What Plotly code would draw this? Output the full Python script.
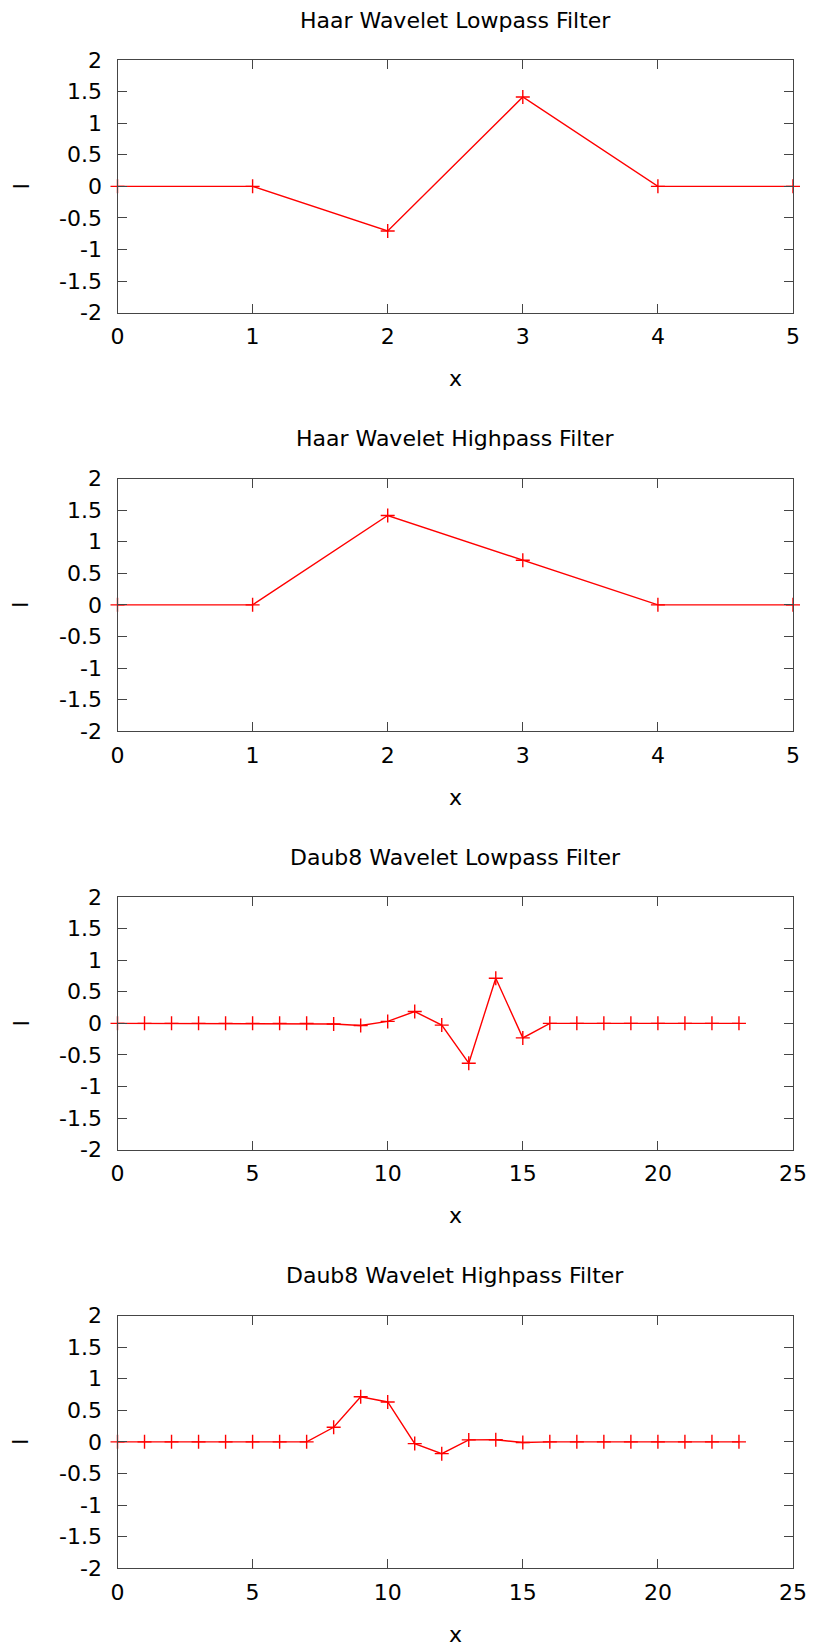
import plotly.graph_objects as go

# ---------------- data ----------------
TITLES = [
    "Haar Wavelet Lowpass Filter",
    "Haar Wavelet Highpass Filter",
    "Daub8 Wavelet Lowpass Filter",
    "Daub8 Wavelet Highpass Filter",
]
X_LABEL = "x"
Y_LABEL = "l"

HAAR_X = [0, 1, 2, 3, 4, 5]
HAAR_LOW = [0, 0, -0.7071, 1.4142, 0, 0]
HAAR_HIGH = [0, 0, 1.4142, 0.7071, 0, 0]

DAUB_X = [0, 1, 2, 3, 4, 5, 6, 7, 8, 9, 10, 11, 12, 13, 14, 15,
          16, 17, 18, 19, 20, 21, 22, 23]
DAUB_LOW = [0, 0, 0, 0, 0, 0, 0, 0,
            -0.0106, -0.0329, 0.0308, 0.1870, -0.0280, -0.6309, 0.7148, -0.2304,
            0, 0, 0, 0, 0, 0, 0, 0]
DAUB_HIGH = [0, 0, 0, 0, 0, 0, 0, 0,
             0.2304, 0.7148, 0.6309, -0.0280, -0.1870, 0.0308, 0.0329, -0.0106,
             0, 0, 0, 0, 0, 0, 0, 0]

Y_TICKS = [-2, -1.5, -1, -0.5, 0, 0.5, 1, 1.5, 2]
Y_TICK_LABELS = ["-2", "-1.5", "-1", "-0.5", "0", "0.5", "1", "1.5", "2"]
HAAR_X_TICKS = [0, 1, 2, 3, 4, 5]
DAUB_X_TICKS = [0, 5, 10, 15, 20, 25]

PANELS = [
    (HAAR_X, HAAR_LOW, HAAR_X_TICKS, [0, 5]),
    (HAAR_X, HAAR_HIGH, HAAR_X_TICKS, [0, 5]),
    (DAUB_X, DAUB_LOW, DAUB_X_TICKS, [0, 25]),
    (DAUB_X, DAUB_HIGH, DAUB_X_TICKS, [0, 25]),
]

# ---------------- layout geometry (pixels) ----------------
W, H = 814, 1647
LEFT, RIGHT = 117.5, 793.0
TOP0, BOT0 = 60.0, 312.7
PITCH = 418.5

FONT = "DejaVu Sans"
TXT = "#000000"
AXC = "#454545"
RED = "#ff0000"

fig = go.Figure()
layout = dict(
    width=W, height=H,
    margin=dict(l=0, r=0, t=0, b=0),
    paper_bgcolor="white", plot_bgcolor="white",
    showlegend=False,
    font=dict(family=FONT, size=22, color=TXT),
)
annotations = []

xc = (LEFT + RIGHT) / 2 / W
for i, (xs, ys, xt, xr) in enumerate(PANELS):
    top = TOP0 + i * PITCH
    bot = BOT0 + i * PITCH
    sfx = "" if i == 0 else str(i + 1)
    fig.add_trace(go.Scatter(
        x=xs, y=ys, mode="lines+markers",
        xaxis="x" + sfx, yaxis="y" + sfx,
        line=dict(color=RED, width=1.4),
        marker=dict(symbol="cross-thin", size=10,
                    line=dict(color=RED, width=1.4), color=RED),
        cliponaxis=False, hoverinfo="skip",
    ))
    common = dict(
        showline=True, linecolor=AXC, linewidth=1.3, mirror="ticks",
        ticks="inside", ticklen=9, tickwidth=1.3, tickcolor=AXC,
        showgrid=False, zeroline=False, automargin=False,
        tickfont=dict(family=FONT, size=22, color=TXT),
    )
    layout["xaxis" + sfx] = dict(
        common, domain=[LEFT / W, RIGHT / W], anchor="y" + sfx,
        range=xr, tickvals=xt, ticktext=[str(v) for v in xt],
        ticklabelstandoff=4,
    )
    layout["yaxis" + sfx] = dict(
        common, domain=[1 - bot / H, 1 - top / H], anchor="x" + sfx,
        range=[-2, 2], tickvals=Y_TICKS, ticktext=Y_TICK_LABELS,
        ticklabelstandoff=10,
    )
    # panel title
    annotations.append(dict(
        text=TITLES[i], x=xc, y=1 - (top - 40) / H,
        xref="paper", yref="paper", xanchor="center", yanchor="middle",
        showarrow=False, font=dict(family=FONT, size=22, color=TXT)))
    # x axis title
    annotations.append(dict(
        text=X_LABEL, x=xc, y=1 - (bot + 66) / H,
        xref="paper", yref="paper", xanchor="center", yanchor="middle",
        showarrow=False, font=dict(family=FONT, size=22, color=TXT)))
    # y axis title
    annotations.append(dict(
        text=Y_LABEL, x=21 / W, y=1 - ((top + bot) / 2) / H,
        xref="paper", yref="paper", xanchor="center", yanchor="middle",
        textangle=-90,
        showarrow=False, font=dict(family=FONT, size=22, color=TXT)))

layout["annotations"] = annotations
fig.update_layout(**layout)
fig.write_html(
    "out.html",
    post_script="document.body.style.margin='0';document.body.style.padding='0';",
)
